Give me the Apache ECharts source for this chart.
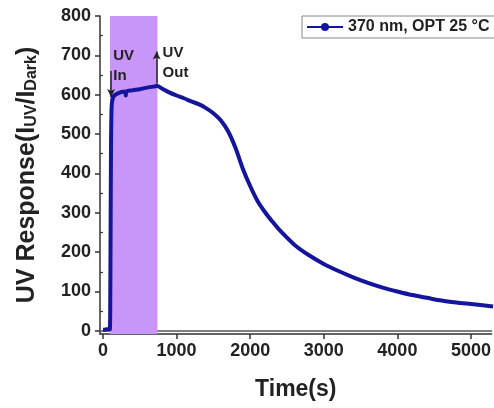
<!DOCTYPE html>
<html>
<head>
<meta charset="utf-8">
<script src="https://cdn.jsdelivr.net/npm/echarts@6/dist/echarts.min.js"></script>
<style>
  html, body { margin: 0; padding: 0; background: #fff; }
  #main { width: 494px; height: 408px; }
</style>
</head>
<body>
<div id="main"></div>
<script>
// 时间 (s)
var timeSec = [0, 20, 50, 80, 95, 100, 105, 110, 115, 120, 130, 150, 200, 250, 300, 310, 320, 400, 500, 600, 700, 740,
  800, 900, 1000, 1100, 1200, 1300, 1400, 1500, 1600, 1700, 1800, 1900, 2000, 2100, 2200, 2300, 2400,
  2600, 2800, 3000, 3200, 3400, 3600, 3800, 4000, 4200, 4400, 4600, 4800, 5000, 5300];
// UV 响应
var uvResp = [3, 3, 4, 4, 5, 100, 300, 480, 550, 575, 588, 597, 603, 607, 608, 598, 608, 611, 614, 618, 621, 622,
  616, 606, 598, 591, 583, 576, 566, 553, 535, 507, 465, 412, 368, 330, 302, 278, 256,
  219, 192, 170, 152, 136, 122, 110, 100, 91, 84, 77, 72, 68, 62];
// 刻度
var xTicks = [0, 1000, 2000, 3000, 4000, 5000];
var yTicks = [0, 100, 200, 300, 400, 500, 600, 700, 800];
var yMinorTicks = [50, 150, 250, 350, 450, 550, 650, 750];
// 紫外照射区间
var uvOn = [95, 740];
var seriesName = '370 nm, OPT 25 °C';

var lineData = timeSec.map(function (t, i) { return [t, uvResp[i]]; });

var myChart = echarts.init(document.getElementById('main'));
var bold = { fontFamily: 'Arial, Liberation Sans', fontWeight: 'bold', color: '#222' };
// 不要千分位
var plain = function (v) { return String(v); };

var option = {
  animation: false,
  backgroundColor: '#fff',
  grid: { left: 100, right: 0, top: 16, bottom: 74 },
  legend: {
    data: [seriesName],
    left: 302, top: 16,
    padding: [3, 20, 3, 4],
    itemWidth: 36, itemHeight: 10,
    borderColor: '#888', borderWidth: 1, borderRadius: 0,
    backgroundColor: '#fff',
    textStyle: { fontFamily: 'Arial, Liberation Sans', fontWeight: 'bold', fontSize: 16, color: '#222' }
  },
  xAxis: [{
    type: 'value', min: -40, max: 5280,
    name: 'Time(s)', nameLocation: 'middle', nameGap: 44,
    nameTextStyle: Object.assign({ fontSize: 23 }, bold),
    axisLine: { onZero: false, lineStyle: { color: '#333', width: 1.5 } },
    axisTick: { length: 5, customValues: xTicks, lineStyle: { color: '#333', width: 1.5 } },
    axisLabel: Object.assign({ fontSize: 18, margin: 8, customValues: xTicks, formatter: plain }, bold),
    splitLine: { show: false }
  }, {
    type: 'value', position: 'top', min: -40, max: 5280,
    axisLine: { show: true, lineStyle: { color: '#555', width: 1.5 } },
    axisTick: { show: false }, axisLabel: { show: false }, splitLine: { show: false }
  }],
  yAxis: [{
    type: 'value', min: -8, max: 800,
    name: '{a|UV Response(I}{s|UV}{a|/I}{s|Dark}{a|)}',
    nameLocation: 'middle', nameGap: 60, nameRotate: 90,
    nameTextStyle: {
      rich: {
        a: Object.assign({ fontSize: 25, lineHeight: 30, verticalAlign: 'bottom' }, bold),
        s: Object.assign({ fontSize: 16, lineHeight: 30, verticalAlign: 'bottom', padding: [10, 0, 0, 0] }, bold)
      }
    },
    axisLine: { onZero: false, lineStyle: { color: '#333', width: 1.5 } },
    axisTick: { length: 5, customValues: yTicks, lineStyle: { color: '#333', width: 1.5 } },
    axisLabel: Object.assign({ fontSize: 18, margin: 9, customValues: yTicks, formatter: plain }, bold),
    splitLine: { show: false }
  }, {
    // 次刻度
    type: 'value', position: 'left', min: -8, max: 800,
    axisLine: { show: false },
    axisTick: { show: true, length: 3, customValues: yMinorTicks, lineStyle: { color: '#333', width: 1.2 } },
    axisLabel: { show: false }, splitLine: { show: false }
  }],
  series: [{
    name: 'band',
    type: 'line', data: [], z: 1,
    markArea: {
      silent: true,
      itemStyle: { color: '#c896f8', opacity: 1 },
      data: [[{ xAxis: uvOn[0] }, { xAxis: uvOn[1] }]]
    }
  }, {
    name: seriesName,
    type: 'line', z: 3,
    data: lineData,
    smooth: 0.3,
    showSymbol: false, symbol: 'circle', symbolSize: 4,
    lineStyle: { color: '#14149c', width: 4 },
    itemStyle: { color: '#14149c' },
    markLine: {
      silent: true, symbol: ['none', 'arrow'], symbolSize: [6, 8],
      lineStyle: { color: '#222', width: 1.5, type: 'solid' },
      label: { show: false },
      data: [
        [{ coord: [110, 660] }, { coord: [110, 594] }],
        [{ coord: [730, 628] }, { coord: [730, 710] }]
      ]
    },
    markPoint: {
      silent: true, symbol: 'circle', symbolSize: 0,
      label: Object.assign({ show: true, fontSize: 15, lineHeight: 20, align: 'left', position: 'inside' }, bold),
      data: [
        { coord: [140, 674], value: 'UV\nIn' },
        { coord: [810, 682], value: 'UV\nOut' }
      ]
    }
  }]
};

myChart.setOption(option);
</script>
</body>
</html>
